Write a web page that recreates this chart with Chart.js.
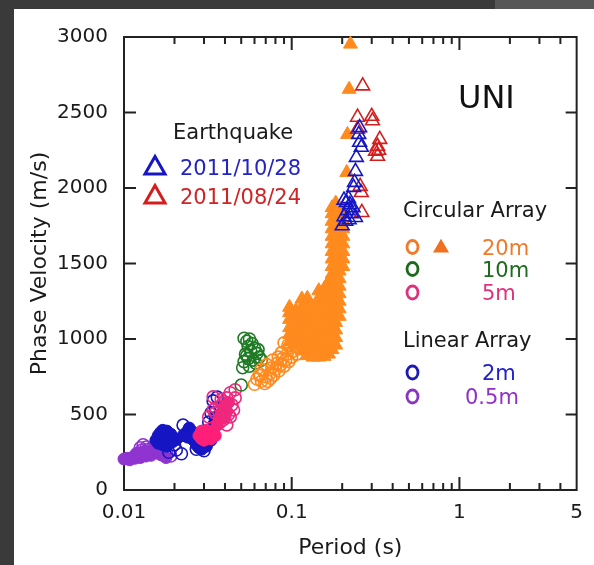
<!DOCTYPE html>
<html lang="en">
<head>
<meta charset="UTF-8">
<title>UNI phase velocity</title>
<script src="https://cdn.jsdelivr.net/npm/chart.js"></script>
<style>
  body { margin: 0; width: 594px; height: 565px; overflow: hidden; position: relative; background: #3a3a3a; }
  .corner { position: absolute; left: 495px; top: 0; width: 99px; height: 9px; background: #575757; }
  .panel { position: absolute; left: 14px; top: 9px; width: 580px; height: 556px; background: #fff; }
</style>
</head>
<body>
<div class="corner"></div>
<div class="panel"><canvas id="chart" width="580" height="556"></canvas></div>
<script>
// axis ticks
const periodTicks = [0.01, 0.02, 0.03, 0.04, 0.05, 0.06, 0.07, 0.08, 0.09,
  0.1, 0.2, 0.3, 0.4, 0.5, 0.6, 0.7, 0.8, 0.9, 1, 2, 3, 4, 5];
const periodLabels = { 0.01: '0.01', 0.1: '0.1', 1: '1', 5: '5' };
const velocityTicks = [0, 500, 1000, 1500, 2000, 2500, 3000];

// earthquake records [period s, phase velocity m/s]
const quake20111028 = [[0.254, 2400], [0.251, 2355], [0.254, 2303], [0.26, 2270], [0.243, 2203],
  [0.24, 2110], [0.237, 2037], [0.234, 2004], [0.205, 1920], [0.212, 1905], [0.222, 1890],
  [0.232, 1870], [0.215, 1850], [0.228, 1830], [0.205, 1810], [0.24, 1805], [0.21, 1780],
  [0.22, 1790], [0.2, 1750], [0.218, 1930]];
const quake20110824 = [[0.265, 2676], [0.247, 2469], [0.3, 2475], [0.303, 2445], [0.335, 2322],
  [0.325, 2276], [0.316, 2243], [0.325, 2210], [0.33, 2250], [0.247, 2389], [0.256, 2011],
  [0.26, 1970], [0.262, 1838]];

// circular array 20m, filled triangles: [period, [velocities...]]
const circ20mTriCols = [
  [0.097, [980, 1030, 1075, 1130, 1175, 1210]],
  [0.106, [960, 1005, 1050, 1100, 1150, 1190]],
  [0.115, [920, 965, 1010, 1060, 1110, 1160, 1210, 1265]],
  [0.124, [890, 935, 980, 1030, 1080, 1125, 1180, 1230, 1270]],
  [0.134, [880, 925, 970, 1020, 1065, 1120, 1170, 1210]],
  [0.145, [880, 920, 970, 1015, 1070, 1120, 1165, 1220, 1270, 1320]],
  [0.156, [885, 930, 980, 1030, 1075, 1130, 1180, 1230, 1285, 1330]],
  [0.166, [900, 950, 1000, 1045, 1100, 1150, 1200, 1250, 1300, 1350, 1380]],
  [0.174, [930, 980, 1030, 1080, 1130, 1180, 1230, 1280, 1330, 1380, 1430, 1480, 1530,
    1580, 1630, 1680, 1730, 1780, 1830, 1870]],
  [0.183, [960, 1010, 1060, 1110, 1160, 1210, 1260, 1310, 1360, 1410, 1460, 1510, 1560,
    1610, 1660, 1710, 1760, 1810, 1860, 1900]],
  [0.192, [1150, 1200, 1250, 1300, 1350, 1400, 1450, 1500, 1550, 1600, 1650, 1700, 1750,
    1800, 1840, 1870]],
  [0.202, [1480, 1530, 1580, 1630, 1680, 1730, 1780, 1830]],
  [0.213, [2103]], [0.215, [2355]], [0.22, [2654]], [0.224, [2953]]
];
// circular array open circles
const circ20m = [[0.060, 700], [0.062, 735], [0.064, 760], [0.066, 720], [0.068, 790], [0.070, 750],
  [0.072, 720], [0.074, 770], [0.076, 810], [0.078, 760], [0.080, 800], [0.082, 840], [0.084, 790],
  [0.086, 830], [0.088, 870], [0.090, 820], [0.092, 860], [0.094, 900], [0.096, 850], [0.098, 940],
  [0.100, 880], [0.102, 920], [0.104, 960], [0.107, 900], [0.110, 940], [0.113, 980], [0.090, 975],
  [0.066, 800], [0.071, 830], [0.077, 860], [0.083, 880], [0.087, 910], [0.095, 960], [0.105, 990],
  [0.065, 760], [0.069, 705], [0.075, 740]];
const circ10m = [[0.052, 1005], [0.054, 985], [0.056, 1000], [0.058, 970], [0.055, 950], [0.060, 940],
  [0.057, 920], [0.053, 900], [0.062, 905], [0.064, 880], [0.055, 870], [0.059, 860], [0.052, 850],
  [0.066, 860], [0.056, 820], [0.051, 810], [0.061, 840], [0.050, 695], [0.054, 890], [0.063, 930]];
const circ5m = [[0.046, 664], [0.043, 644], [0.046, 610], [0.041, 610], [0.034, 617], [0.039, 577],
  [0.044, 564], [0.037, 551], [0.034, 531], [0.040, 531], [0.035, 511], [0.043, 484], [0.032, 484],
  [0.039, 464], [0.037, 444], [0.041, 431], [0.045, 530], [0.042, 500], [0.038, 600]];
const circ5mFilled = [[0.028, 360], [0.029, 390], [0.030, 370], [0.031, 350], [0.032, 380], [0.033, 360],
  [0.029, 340], [0.031, 395], [0.033, 340], [0.034, 390], [0.036, 430], [0.037, 470], [0.038, 510],
  [0.039, 540], [0.040, 560], [0.041, 520], [0.042, 580], [0.040, 480], [0.035, 360], [0.030, 330]];

// linear array
const lin2m = [[0.0155, 330], [0.016, 360], [0.0165, 380], [0.017, 395], [0.018, 390], [0.019, 370],
  [0.0175, 350], [0.0185, 340], [0.016, 310], [0.017, 300], [0.0195, 320], [0.0205, 335], [0.018, 290],
  [0.0235, 380], [0.0245, 410], [0.024, 350], [0.026, 330], [0.027, 300], [0.028, 280], [0.029, 270],
  [0.031, 290], [0.033, 330], [0.034, 400], [0.0345, 440], [0.035, 480], [0.026, 380], [0.0225, 360]];
const lin2mOpen = [[0.0185, 250], [0.0205, 265], [0.022, 240], [0.020, 300], [0.034, 590], [0.036, 615],
  [0.035, 540], [0.033, 510], [0.036, 470], [0.032, 450], [0.027, 270], [0.030, 260], [0.0225, 430]];
const lin05m = [[0.0100, 205], [0.0104, 210], [0.0108, 200], [0.0112, 215], [0.0116, 210], [0.012, 225],
  [0.0125, 215], [0.013, 235], [0.0135, 225], [0.014, 245], [0.0145, 230], [0.015, 250], [0.0155, 260],
  [0.016, 245], [0.0165, 235], [0.017, 230], [0.0178, 215], [0.0118, 240], [0.0132, 255], [0.015, 270]];
const lin05mOpen = [[0.0125, 280], [0.013, 300], [0.0128, 265], [0.0136, 285], [0.014, 270], [0.0148, 280],
  [0.0158, 285], [0.0165, 265], [0.018, 240], [0.019, 225], [0.0122, 245]];

const ORANGE = '#ff8a1e', GREEN = '#1f7a24', PINK = '#ec2a7e', BLUE = '#1616c4',
  PURPLE = '#8f34d0', RED = '#d41e1e';

function pts(list) { return list.map(p => ({ x: p[0], y: p[1] })); }
const circ20mTri = [];
circ20mTriCols.forEach(c => c[1].forEach(v => circ20mTri.push({ x: c[0], y: v })));

function open(label, data, color, style, r) {
  return { label, data: pts(data), pointStyle: style || 'circle', pointRadius: r || 6,
    borderColor: color, backgroundColor: 'rgba(255,255,255,0)', pointBorderWidth: 1.6, clip: false };
}
function filled(label, data, color, style, r) {
  return { label, data, pointStyle: style || 'circle', pointRadius: r || 6,
    borderColor: color, backgroundColor: color, pointBorderWidth: 1, clip: false };
}

// legend glyphs
function tri(ctx, cx, cy, w, color, fill) {
  const h = w * 0.866;
  ctx.beginPath();
  ctx.moveTo(cx, cy - h * 0.6);
  ctx.lineTo(cx + w / 2, cy + h * 0.4);
  ctx.lineTo(cx - w / 2, cy + h * 0.4);
  ctx.closePath();
  if (fill) { ctx.fillStyle = color; ctx.fill(); }
  else { ctx.strokeStyle = color; ctx.lineWidth = 3; ctx.stroke(); }
}
function ring(ctx, cx, cy, color) {
  ctx.beginPath();
  ctx.ellipse(cx, cy, 5.5, 6.5, 0, 0, Math.PI * 2);
  ctx.strokeStyle = color; ctx.lineWidth = 2.8; ctx.stroke();
}

const frame = {
  id: 'frame',
  beforeDatasetsDraw(chart) {
    const { ctx, chartArea: a, scales: { x, y } } = chart;
    ctx.save();
    ctx.strokeStyle = '#222';
    ctx.lineWidth = 2;
    ctx.strokeRect(a.left, a.top, a.right - a.left, a.bottom - a.top);
    ctx.beginPath();
    velocityTicks.forEach(v => {
      const py = y.getPixelForValue(v);
      ctx.moveTo(a.left, py); ctx.lineTo(a.left + 12, py);
      ctx.moveTo(a.right, py); ctx.lineTo(a.right - 11, py);
    });
    periodTicks.forEach(p => {
      if (p === 5) return;
      const px = x.getPixelForValue(p);
      const len = periodLabels[p] ? 13 : 7;
      ctx.moveTo(px, a.bottom); ctx.lineTo(px, a.bottom - len);
      ctx.moveTo(px, a.top); ctx.lineTo(px, a.top + len);
    });
    ctx.stroke();
    ctx.restore();
  },
  afterDraw(chart) {
    const ctx = chart.ctx;
    ctx.save();
    ctx.textAlign = 'left';
    ctx.textBaseline = 'alphabetic';
    ctx.font = "21px 'DejaVu Sans'";
    const txt = (s, x, y, c) => { ctx.fillStyle = c; ctx.fillText(s, x, y); };
    txt('Earthquake', 159, 130, '#1a1a1a');
    tri(ctx, 141, 158, 20, BLUE, false);
    txt('2011/10/28', 166, 166, '#2424c0');
    tri(ctx, 141, 187, 20, RED, false);
    txt('2011/08/24', 166, 195, '#d02424');
    txt('Circular Array', 389, 208, '#1a1a1a');
    ring(ctx, 398.5, 238, '#f07a2a');
    tri(ctx, 427, 238, 16, '#f07020', true);
    txt('20m', 468, 245.5, '#f07a2a');
    ring(ctx, 398.5, 260, '#1e6a1e');
    txt('10m', 468, 267.5, '#1e6a1e');
    ring(ctx, 398.5, 283.5, '#e0307c');
    txt('5m', 468, 291, '#e0307c');
    txt('Linear Array', 389, 338, '#1a1a1a');
    ring(ctx, 398.5, 363.5, '#1a1ab8');
    txt('2m', 468, 370.5, '#2020d0');
    ring(ctx, 398.5, 387.5, '#8a34c4');
    txt('0.5m', 451, 394.5, '#9030c8');
    ctx.font = "32px 'DejaVu Sans'";
    txt('UNI', 444, 99, '#111');
    ctx.restore();
  }
};

Chart.defaults.font.family = "'DejaVu Sans', sans-serif";
Chart.defaults.color = '#1a1a1a';

new Chart(document.getElementById('chart'), {
  type: 'scatter',
  data: {
    datasets: [
      open('2011/10/28', quake20111028, BLUE, 'triangle', 8),
      open('2011/08/24', quake20110824, RED, 'triangle', 8),
      open('20m', circ20m, ORANGE),
      open('10m', circ10m, GREEN),
      open('5m', circ5m, PINK),
      filled('5m filled', pts(circ5mFilled), '#ff1f78'),
      open('2m open', lin2mOpen, BLUE),
      filled('2m', pts(lin2m), BLUE),
      open('0.5m open', lin05mOpen, PURPLE),
      filled('0.5m', pts(lin05m), PURPLE),
      filled('20m triangles', circ20mTri, ORANGE, 'triangle', 8)
    ]
  },
  options: {
    responsive: false,
    animation: false,
    layout: { padding: { top: 27, right: 12, left: 0, bottom: 0 } },
    plugins: { legend: { display: false }, tooltip: { enabled: false } },
    scales: {
      x: {
        type: 'logarithmic',
        min: 0.01,
        max: 5,
        grid: { display: false, drawTicks: false },
        border: { display: false },
        afterBuildTicks: s => { s.ticks = periodTicks.map(v => ({ value: v })); },
        afterFit: s => { s.height = 75; },
        ticks: {
          autoSkip: false, maxRotation: 0, padding: 11,
          font: { size: 20 }, color: '#1a1a1a',
          callback: v => periodLabels[v] || ''
        },
        title: { display: true, text: 'Period (s)', font: { size: 22 }, padding: { bottom: 4 }, color: '#1a1a1a' }
      },
      y: {
        min: 0,
        max: 3000,
        grid: { display: false, drawTicks: false },
        border: { display: false },
        afterBuildTicks: s => { s.ticks = velocityTicks.map(v => ({ value: v })); },
        afterFit: s => { s.width = 110; },
        ticks: { padding: 16, font: { size: 20 }, color: '#1a1a1a', callback: v => String(v) },
        title: { display: true, text: 'Phase Velocity (m/s)', font: { size: 22 }, padding: { top: 13 }, color: '#1a1a1a' }
      }
    }
  },
  plugins: [frame]
});
</script>
</body>
</html>
